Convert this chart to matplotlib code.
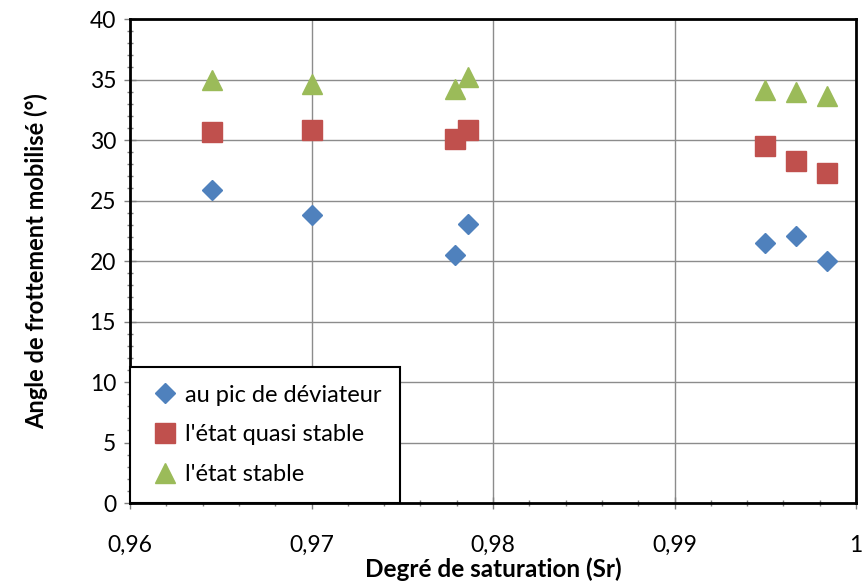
import matplotlib.pyplot as plt
from matplotlib.ticker import MultipleLocator, FuncFormatter

plt.rcParams['font.family'] = ['Lato', 'DejaVu Sans']

# Degré de saturation (Sr)
sr = [0.9645, 0.9700, 0.9779, 0.9786, 0.9950, 0.9967, 0.9984]
# Angles (°)
pic = [25.9, 23.8, 20.5, 23.1, 21.5, 22.1, 20.0]
quasi = [30.7, 30.8, 30.1, 30.8, 29.5, 28.3, 27.3]
stable = [35.0, 34.6, 34.2, 35.2, 34.1, 34.0, 33.6]
labels = ['au pic de déviateur', "l'état quasi stable", "l'état stable"]

fig = plt.figure(figsize=(8.66, 5.82), dpi=100)
ax = fig.add_axes([0.1501, 0.1357, 0.8384, 0.8316])

ax.plot(sr, pic, 'D', color='#4F81BD', markersize=10.5, label=labels[0], zorder=3)
ax.plot(sr, quasi, 's', color='#C0504D', markersize=14.5, label=labels[1], zorder=3)
ax.plot(sr, stable, '^', color='#9BBB59', markersize=15, label=labels[2], zorder=3)

ax.set_xlim(0.96, 1.0)
ax.set_ylim(0, 40)
ax.xaxis.set_major_locator(MultipleLocator(0.01))
ax.xaxis.set_minor_locator(MultipleLocator(0.002))
ax.yaxis.set_major_locator(MultipleLocator(5))
ax.yaxis.set_minor_locator(MultipleLocator(1))

def fmt_x(v, pos):
    s = ('%.2f' % v).rstrip('0').rstrip('.')
    return s.replace('.', ',')

ax.xaxis.set_major_formatter(FuncFormatter(fmt_x))

ax.grid(True, which='major', color='#8c8c8c', linewidth=1)
ax.set_axisbelow(True)
for sp in ax.spines.values():
    sp.set_linewidth(2)
    sp.set_color('black')

ax.tick_params(which='major', direction='inout', length=8, width=1, color='#7f7f7f',
               labelsize=16.5)
ax.tick_params(axis='x', which='major', pad=19)
ax.tick_params(axis='y', which='major', pad=6)
ax.tick_params(which='minor', direction='inout', length=5, width=1, color='#7f7f7f')

ax.set_xlabel('Degré de saturation (Sr)', fontsize=17.5, fontweight='bold', labelpad=1)
ax.set_ylabel('Angle de frottement mobilisé (°)', fontsize=17, fontweight='bold', labelpad=30)

leg = ax.legend(loc='lower left', bbox_to_anchor=(0, 0), borderaxespad=0,
                fontsize=17, fancybox=False, framealpha=1, edgecolor='black',
                handletextpad=0.1, labelspacing=0.8, borderpad=0.75, handlelength=1.5)
leg.get_frame().set_linewidth(1.5)

fig.savefig('out.png', dpi=100)
